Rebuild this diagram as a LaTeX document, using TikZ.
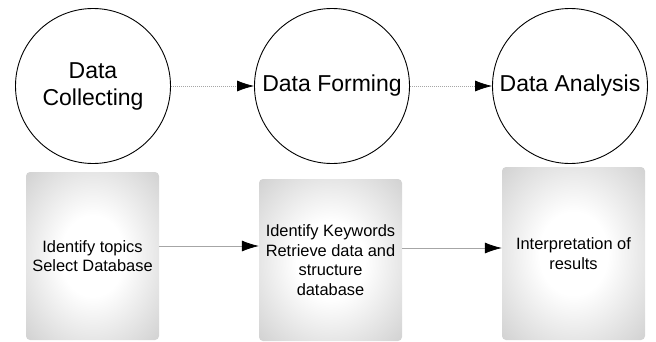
\documentclass[tikz,border=0pt]{standalone}
\usepackage{fontspec}
\setmainfont{Liberation Sans}
\usetikzlibrary{arrows.meta}
\pgfdeclareradialshading{boxglow}{\pgfpoint{0bp}{0bp}}{color(0bp)=(white);color(12bp)=(white);color(50bp)=(gray!58);color(72bp)=(gray!75)}
\tikzset{
  stage/.style={circle,draw,line width=.9pt,minimum size=155pt,inner sep=0pt,font=\fontsize{23}{27}\selectfont,align=center},
  task/.style={rounded corners=4pt,shade,shading=boxglow,inner sep=0pt,font=\fontsize{16.4}{19.5}\selectfont,align=center},
  flow/.style={-{Latex[length=17pt,width=11pt,black]},gray!70,line width=.7pt}
}
\begin{document}
\begin{tikzpicture}[x=1pt,y=-1pt]
\useasboundingbox (0,0) rectangle (656,341);
% top row
\node[stage] (collect) at (93,86) {Data\\Collecting};
\node[stage] (form) at (332,86) {Data Forming};
\node[stage] (analyse) at (570,86) {Data Analysis};
\draw[flow,dash pattern=on 1pt off 1pt] (collect) -- (form);
\draw[flow,dash pattern=on 1pt off 1pt] (form) -- (analyse);
% bottom row
\node[task,minimum width=133pt,minimum height=168pt] (topics) at (92.5,256) {Identify topics\\Select Database};
\node[task,minimum width=143pt,minimum height=162pt] (keys) at (330.5,260) {Identify Keywords\\Retrieve data and\\structure\\database};
\node[task,minimum width=143pt,minimum height=173pt] (interp) at (573.5,253.5) {Interpretation of\\results};
\draw[flow] (topics.east |- 0,246) -- (keys.west |- 0,246);
\draw[flow] (keys.east |- 0,248) -- (interp.west |- 0,248);
\end{tikzpicture}
\end{document}
